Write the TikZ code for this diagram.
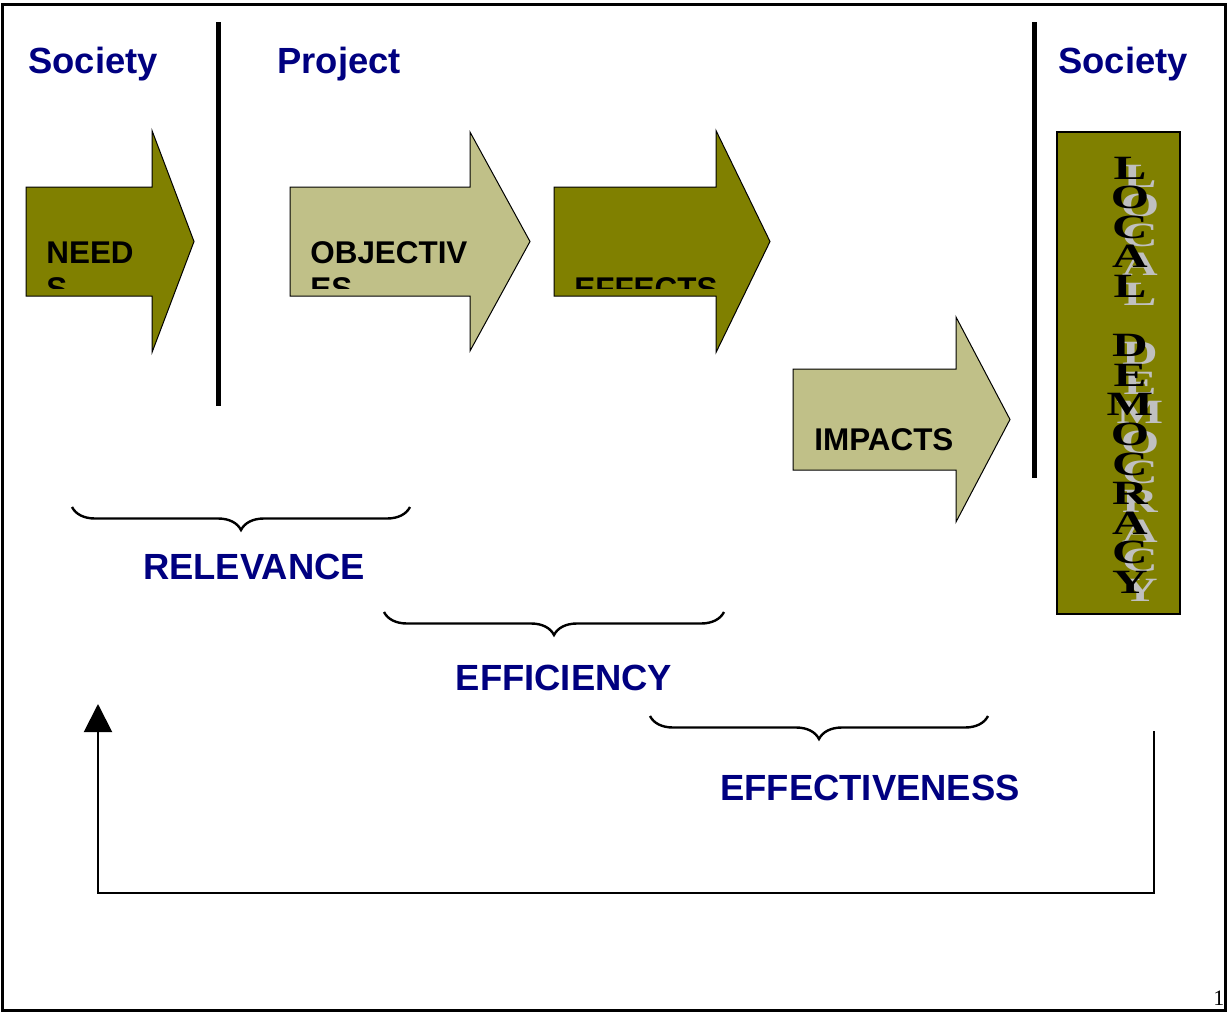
\documentclass[tikz,border=0pt]{standalone}
\usepackage{fontspec}
\setmainfont{Liberation Serif}
\setsansfont{Liberation Sans}
\usetikzlibrary{positioning, decorations.pathreplacing, arrows.meta}
\definecolor{titleColor}{RGB}{0,0,128}
\definecolor{darkOlive}{RGB}{128,128,0}
\definecolor{lightOlive}{RGB}{192,192,136}
\definecolor{shadowGray}{RGB}{192,192,192}
\tikzstyle{titleText} = [font=\sffamily\bfseries\fontsize{18.2}{22}\selectfont, color=titleColor, anchor=base west, inner sep=0]
\tikzstyle{criterionText} = [font=\sffamily\bfseries\fontsize{18.2}{22}\selectfont, color=titleColor, anchor=base, inner sep=0]
\tikzstyle{arrowText} = [font=\sffamily\bfseries\fontsize{15.7}{18}\selectfont, anchor=base west, inner sep=0]
\tikzstyle{separator} = [line width=2.5pt]
\tikzstyle{stageArrowStyle} = [draw=black, line width=0.5pt]
\tikzstyle{braceStyle} = [decorate, decoration={brace, amplitude=11.5pt}, line width=1.2pt]
\tikzstyle{letterStyle} = [font=\bfseries\fontsize{17}{20}\selectfont, anchor=base, inner sep=0, xscale=1.45]
\tikzstyle{feedbackLine} = [line width=1pt, -{Triangle[length=14pt, width=14pt]}]
\newcommand{\stageArrow}[7]{\filldraw [stageArrowStyle, fill=#1] (#2, #5 - #6) -- (#3, #5 - #6) -- (#3, #5 - #7) -- (#4, #5) -- (#3, #5 + #7) -- (#3, #5 + #6) -- (#2, #5 + #6) -- cycle;}
\newcommand{\twoLines}[2]{\parbox[t]{4cm}{\raggedright #1\\#2}}
\begin{document}
\begin{tikzpicture}[x = 0.5pt, y = -0.5pt]
        \useasboundingbox (0,0) rectangle (1228,1012);
        \draw [line width=1.5pt] (2,4) rectangle (1225,1010);

        % headings and separators
        \node [titleText] (societyLeft) at (28,74) {Society};
        \node [titleText] (project) at (277,74) {Project};
        \node [titleText] (societyRight) at (1058,74) {Society};
        \draw [separator] (218,22) -- (218,406);
        \draw [separator] (1034,22) -- (1034,478);

        % stage arrows
        \stageArrow{darkOlive}{26}{152}{194}{241.5}{54.5}{111}
        \stageArrow{lightOlive}{290}{470}{530}{241.5}{54.5}{109.5}
        \stageArrow{darkOlive}{554}{716}{770}{241.5}{54.5}{111}
        \stageArrow{lightOlive}{793}{956}{1010}{419.5}{50.5}{102.5}
        \begin{scope}
          \clip (26,187) rectangle (770,288);
          \node [arrowText] (needs) at (46,263) {\twoLines{NEED}{S}};
          \node [arrowText] (objectives) at (310,263) {\twoLines{OBJECTIV}{ES}};
          \node [arrowText] (effects) at (574,299) {EFFECTS};
        \end{scope}
        \node [arrowText] (impacts) at (814,450) {IMPACTS};

        % local democracy
        \filldraw [fill=darkOlive, line width=1pt] (1057,132) rectangle (1180,614);
        \foreach \letter/\row in {L/0,O/1,C/2,A/3,L/4,D/6,E/7,M/8,O/9,C/10,R/11,A/12,C/13,Y/14} {
          \node [letterStyle, color=shadowGray] (democracyShadow\row) at (1140, 187 + 29.6 * \row) {\letter};
        }
        \foreach \letter/\row in {L/0,O/1,C/2,A/3,L/4,D/6,E/7,M/8,O/9,C/10,R/11,A/12,C/13,Y/14} {
          \node [letterStyle] (democracy\row) at (1130, 179 + 29.6 * \row) {\letter};
        }

        % criteria
        \coordinate (relevanceRight) at (410,507);
        \coordinate (relevanceLeft) at (72,507);
        \coordinate (efficiencyRight) at (724,612);
        \coordinate (efficiencyLeft) at (384,612);
        \coordinate (effectivenessRight) at (988,716);
        \coordinate (effectivenessLeft) at (650,716);
        \draw [braceStyle] (relevanceRight) -- (relevanceLeft);
        \draw [braceStyle] (efficiencyRight) -- (efficiencyLeft);
        \draw [braceStyle] (effectivenessRight) -- (effectivenessLeft);
        \node [criterionText] (relevance) at (254,579) {RELEVANCE};
        \node [criterionText] (efficiency) at (564,690) {EFFICIENCY};
        \node [criterionText] (effectiveness) at (870,800) {EFFECTIVENESS};

        % feedback to society
        \coordinate (feedbackStart) at (1154,731);
        \coordinate (feedbackRight) at (1154,893);
        \coordinate (feedbackLeft) at (98,893);
        \coordinate (feedbackEnd) at (98,704);
        \draw [feedbackLine] (feedbackStart) -- (feedbackRight) -- (feedbackLeft) -- (feedbackEnd);

        \node [anchor=base west, inner sep=0, font=\fontsize{11}{13}\selectfont] (pageNumber) at (1213,1005) {1};
      \end{tikzpicture}
\end{document}
